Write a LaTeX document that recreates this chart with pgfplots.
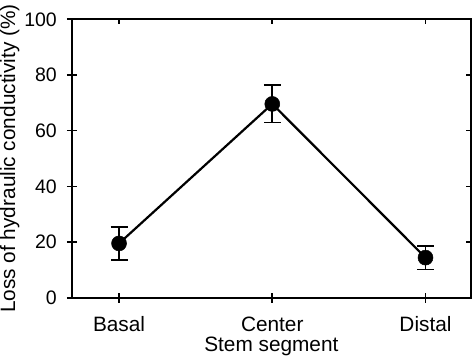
\documentclass[border=0pt]{standalone}
\usepackage{fontspec}
\setmainfont{Liberation Sans}
\usepackage{pgfplots}
\pgfplotsset{compat=1.18}
\usetikzlibrary{calc}
\begin{document}
\begin{tikzpicture}
\pgfplotsset{
  common/.style={
    scale only axis, width=398.7bp, height=278.4bp,
    xmin=-0.307, xmax=2.295, ymin=0, ymax=100,
    xtick={0,1,2}, ytick={0,20,40,60,80,100},
    /pgf/number format/assume math mode=true,
  }
}
\begin{axis}[common, name=ax,
  xticklabels={Basal,Center,Distal},
  tick pos=left, tick align=center, major tick length=10bp,
  axis line style={line width=1.6bp},
  every tick/.style={line width=1.6bp, black},
  yticklabel style={font=\fontsize{19.5bp}{23bp}\selectfont},
  xticklabel style={font=\fontsize{20.8bp}{24bp}\selectfont},
  label style={font=\fontsize{20.8bp}{24bp}\selectfont},
  xlabel={Stem segment},
  ylabel={Loss of hydraulic conductivity (\%)},
  xlabel style={at={(axis description cs:0.5,-0.195)}, anchor=base},
  ylabel style={at={(axis description cs:-0.1425,0.5)}, anchor=base},
  xticklabel style={anchor=base, yshift=-29bp},
  yticklabel style={anchor=east, inner sep=0pt, xshift=-10bp},
]
\addplot[black, line width=2.2bp, mark=*, mark size=7.5bp,
  mark options={solid, fill=black, line width=0.5bp},
  error bars/.cd, y dir=both, y explicit,
  error bar style={line width=1.8bp, black},
  error mark options={rotate=90, mark size=8.5bp, line width=1.8bp, black}]
  coordinates {
  (0,19.5) +- (0,6.0)
  (1,69.6) +- (0,6.7)
  (2,14.4) +- (0,4.3)
};
\end{axis}
\begin{axis}[common,
  xticklabels={}, yticklabels={},
  xtick pos=right, ytick pos=right, tick align=inside, major tick length=5bp,
  axis line style={draw=none},
  every tick/.style={line width=1.6bp, black},
]
\end{axis}
\pgfresetboundingbox
\path ([shift={(-72bp,-61.3bp)}]ax.south west) rectangle ([shift={(1.3bp,19.3bp)}]ax.north east);
\end{tikzpicture}
\end{document}
